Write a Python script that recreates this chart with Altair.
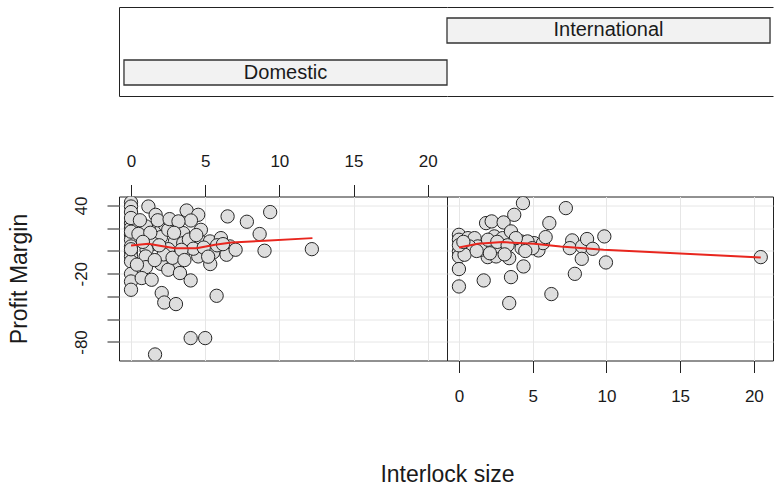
import altair as alt
import pandas as pd

# ---------------- data ----------------
panels = ["Domestic", "International"]
x_ticks = [0, 5, 10, 15, 20]
y_ticks = [-80, -60, -40, -20, 0, 20, 40]
y_labels = [40, -20, -80]

dom_x = [0, 0, 0, 0, 0, 0, 0, 0, 0, 0, 0, 0, 0, 0, 0, 0, 0,
         1.17, 1.66, 1.01, 2.07, 2.29, 3.08, 3.75, 4.53, 4.04, 3.52, 4.71, 2.02, 2.96, 1.5, 2.51,
         3.52, 4.65, 1.05, 0.99, 4.53, 5.32, 5.54, 6.06, 6.67, 6.44, 7.05, 5.34, 6.51, 7.81, 8.67,
         9.38, 9.0, 12.19, 1.01, 2.02, 3.01, 2.51, 3.3, 0.72, 1.39, 4.02, 2.07, 2.24, 3.03, 5.77,
         4.02, 5.0, 1.62, 2.51, 3.52,
         0.5, 0.6, 1.3, 1.8, 2.6, 3.2, 3.9, 4.2, 4.9, 5.8, 6.2, 2.2, 2.8, 3.4, 1.6, 0.4, 4.4, 5.2,
         2.9, 1.9, 3.6, 0.8]
dom_y = [42.7, 39.1, 34.2, 24.5, 20.1, 14.2, 9.9, 4.0, -0.4, -4.8, -9.2, -20.1, -26.8, -34.1, 29, 17, 1.5,
         39.1, 31.8, 21.6, 20.1, 23.0, 20.1, 35.6, 31.8, 26.8, 15.7, 18.6, 12.2, 8.4, 6.3, 1.6,
         -1.3, 8.4, 1.1, -4.8, -4.8, 8.4, -1.3, 11.3, 4.0, -3.3, 1.1, -11.5, 30.4, 25.7, 14.9,
         34.2, 0.2, 1.6, -14.2, -11.3, -11.5, -16.5, -19.4, -23.8, -25.3, -25.9, -37.0, -45.3, -46.7, -39.4,
         -76.6, -76.6, -91.0, 18.6, 6.9,
         15, 27, 16, 27, 28, 26, 10, 2, 3, 5, 6, -3, -6, 1, -8, -12, 14, -5,
         16, 5, -8, 8]

int_x = [0, 0, 0, 0, 0, 0, 0.61, 1.06, 1.28, 1.68, 1.84, 2.22, 1.95, 2.52, 2.4, 3.03, 2.96, 3.03,
         3.53, 3.41, 3.53, 3.41, 3.75, 4.34, 4.2, 4.25, 4.38, 5.1, 5.39, 5.7, 5.88, 6.13, 6.27,
         7.25, 7.68, 7.52, 7.86, 8.35, 8.69, 8.33, 9.07, 9.86, 9.97, 20.47, 0.7, 1.5, 2.7, 1.97,
         4.65, 4.98, 0.38, 3.86, 0, 0.3, 1.2, 2.1, 2.6, 3.3, 3.1, 4.5]
int_y = [14.2, 9.9, -0.4, -4.8, -15.9, -31.2, 11.3, 11.3, 4.0, -25.9, 24.5, 26.0, -5.4, -4.8, 12.8, 25.1, 11.3, 1.6,
         17.2, -6.3, -23.0, -45.8, 31.8, 42.1, 8.4, 2.5, -13.6, 6.9, 0.5, 6.9, 12.2, 24.5, -37.9,
         37.7, 9.3, 2.5, -20.1, 4.0, 10.5, -6.9, 1.9, 12.8, -10.1, -5.4, 4.0, 1.1, 4.0, 9.9,
         8.4, 2.5, -3.3, 11.3, 5, 8, 0, -2, 8, 5, -3, 0]

dom_fit_x = [0, 1.17, 1.84, 2.96, 4.42, 5.66, 6.78, 9.02, 12.23]
dom_fit_y = [4.8, 6.3, 4.8, 2.5, 2.5, 5.4, 7.5, 9.0, 11.3]
int_fit_x = [0, 1.28, 2.96, 5.1, 6.89, 9.81, 20.47]
int_fit_y = [3.1, 6.3, 7.8, 6.3, 4.0, 1.1, -5.7]

# ---------------- styling ----------------
FONT = "Liberation Sans"
TXT = "#1a1a1a"
GRID = "#e6e6e6"
X_DOMAIN = [-0.81, 21.3]
Y_DOMAIN = [-96.3, 47.9]
PANEL_H = 164
W_LEFT = 328
W_RIGHT = 326
STRIP_H = 89
TICK_FS = 17
TITLE_FS = 23

frame_axis = dict(labels=False, ticks=False, grid=False, title=None,
                  domain=True, domainColor="#222222", domainWidth=1)


def strip_cell(name, width, align, pad_outer, left_frame):
    df = pd.DataFrame({"panel": [name]})
    xs = alt.Scale(domain=[name], paddingInner=0, paddingOuter=pad_outer, align=align)
    ys = alt.Scale(domain=["International", "Domestic"], paddingInner=0.405, paddingOuter=0.262)
    y_axis = alt.Axis(orient="left", **frame_axis) if left_frame else None
    box = alt.Chart(df).mark_rect(fill="#f2f2f2", stroke="#333333", strokeWidth=1.3).encode(
        x=alt.X("panel:N", scale=xs, axis=alt.Axis(orient="top", **frame_axis)),
        y=alt.Y("panel:N", scale=ys, axis=y_axis),
    )
    label = alt.Chart(df).mark_text(font=FONT, fontSize=20, color=TXT).encode(
        x=alt.X("panel:N", scale=xs, axis=alt.Axis(orient="bottom", **frame_axis)),
        y=alt.Y("panel:N", scale=ys, axis=y_axis),
        text="panel:N",
    )
    return alt.layer(box, label).resolve_axis(x="independent").properties(
        width=width, height=STRIP_H, view=alt.ViewBackground(strokeOpacity=0)
    )


def panel(px, py, fx, fy, width, x_axis, y_axis):
    pts = pd.DataFrame({"x": px, "y": py})
    fit = pd.DataFrame({"x": fx, "y": fy})
    xe = alt.X("x:Q", scale=alt.Scale(domain=X_DOMAIN, nice=False, zero=False), axis=x_axis)
    ye = alt.Y("y:Q", scale=alt.Scale(domain=Y_DOMAIN, nice=False, zero=False), axis=y_axis)
    points = alt.Chart(pts).mark_circle(size=177, fill="#dedede", stroke="#262626",
                                        strokeWidth=1, opacity=1, clip=True).encode(x=xe, y=ye)
    line = alt.Chart(fit).mark_line(color="#e8261e", strokeWidth=2, clip=True).encode(x=xe, y=ye)
    return alt.layer(points, line).properties(width=width, height=PANEL_H)


label_expr = " || ".join(f"datum.value == {v}" for v in y_labels)

left_x_axis = alt.Axis(orient="top", values=x_ticks, tickSize=12, tickColor="#222222",
                       labelPadding=14, labelFontSize=TICK_FS, labelFont=FONT, labelColor=TXT,
                       labelFlush=False, labelOverlap=False, domain=False,
                       grid=True, gridColor=GRID, title=None)
left_y_axis = alt.Axis(orient="left", values=y_ticks,
                       labelExpr=f"({label_expr}) ? '' + datum.value : ''",
                       labelAngle=270, labelAlign="center", labelBaseline="bottom",
                       tickSize=12, tickColor="#222222", labelPadding=17, labelFontSize=TICK_FS,
                       labelFont=FONT, labelColor=TXT, labelFlush=False, labelOverlap=False,
                       domain=False, grid=True, gridColor=GRID,
                       title="Profit Margin", titleFont=FONT, titleFontSize=TITLE_FS,
                       titleFontWeight="normal", titleColor=TXT, titlePadding=41)
right_x_axis = alt.Axis(orient="bottom", values=x_ticks, tickSize=12, tickColor="#222222",
                        labelPadding=16, labelFontSize=TICK_FS, labelFont=FONT, labelColor=TXT,
                        labelFlush=False, labelOverlap=False, domain=False,
                        grid=True, gridColor=GRID,
                        title="Interlock size", titleFont=FONT, titleFontSize=TITLE_FS,
                        titleFontWeight="normal", titleColor=TXT,
                        titleX=0, titleY=121, titleAlign="center", titleBaseline="alphabetic")
right_y_axis = alt.Axis(values=y_ticks, labels=False, ticks=False, domain=False,
                        grid=True, gridColor=GRID, title=None)

strip_left = strip_cell("Domestic", W_LEFT, 1, 0.0077, True)
strip_right = strip_cell("International", W_RIGHT, 0, 0.0046, False)
panel_left = panel(dom_x, dom_y, dom_fit_x, dom_fit_y, W_LEFT, left_x_axis, left_y_axis)
panel_right = panel(int_x, int_y, int_fit_x, int_fit_y, W_RIGHT, right_x_axis, right_y_axis)

chart = alt.concat(
    strip_left, strip_right, panel_left, panel_right,
    columns=2, spacing={"row": 100.5, "column": 0}, bounds="flush",
).properties(
    padding={"left": 7, "top": 7, "right": 0, "bottom": 0}
).configure_view(stroke="#222222", strokeWidth=1)

chart.save("out.html", embed_options={"renderer": "svg", "actions": False})
